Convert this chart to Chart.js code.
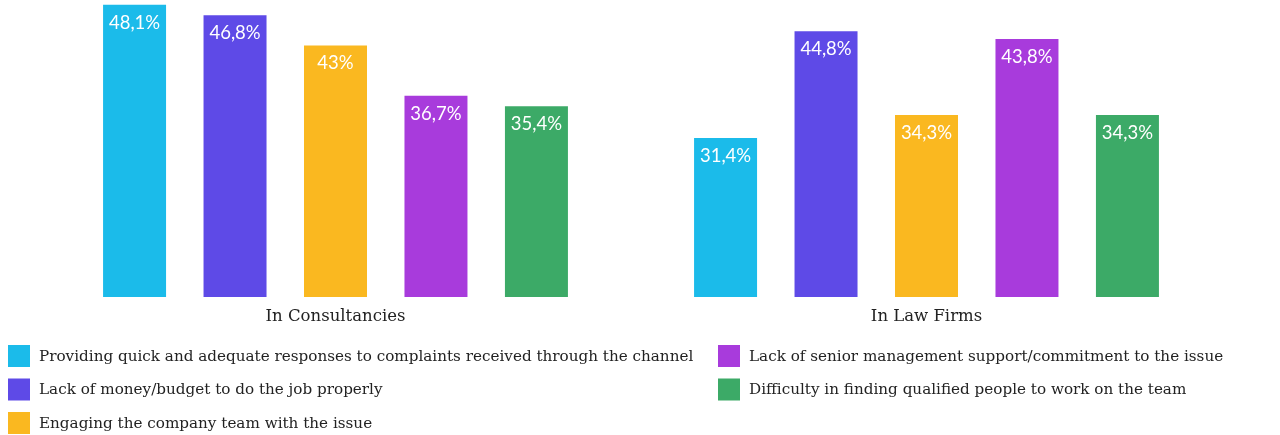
<!DOCTYPE html>
<html>
<head>
<meta charset="utf-8">
<script src="https://cdn.jsdelivr.net/npm/chart.js@4.4.1/dist/chart.umd.min.js"></script>
<style>
  html, body { margin: 0; padding: 0; background: #fff; }
  #wrap { width: 1280px; height: 435px; position: relative; }
</style>
</head>
<body>
<div id="wrap"><canvas id="chart"></canvas></div>
<script>
const categories = ["In Consultancies", "In Law Firms"];
const seriesNames = [
  "Providing quick and adequate responses to complaints received through the channel",
  "Lack of money/budget to do the job properly",
  "Engaging the company team with the issue",
  "Lack of senior management support/commitment to the issue",
  "Difficulty in finding qualified people to work on the team"
];
const quickResponses = [48.1, 31.4];
const lackOfBudget = [46.8, 44.8];
const engagingTeam = [43, 34.3];
const lackOfSupport = [36.7, 43.8];
const qualifiedPeople = [35.4, 34.3];
const seriesValues = [quickResponses, lackOfBudget, engagingTeam, lackOfSupport, qualifiedPeople];
const colors = ["#1bbbea", "#5e4ae7", "#fab820", "#a83bdc", "#3caa67"];

const serif = "'DejaVu Serif', serif";

// white % labels inside the top of each bar
const barLabels = {
  id: "barLabels",
  afterDatasetsDraw(chart) {
    const ctx = chart.ctx;
    ctx.save();
    ctx.fillStyle = "#fff";
    ctx.font = "400 18.5px Lato, sans-serif";
    ctx.textAlign = "center";
    ctx.textBaseline = "middle";
    chart.data.datasets.forEach((ds, i) => {
      chart.getDatasetMeta(i).data.forEach((bar, j) => {
        const txt = String(ds.data[j]).replace(".", ",") + "%";
        ctx.fillText(txt, bar.x, bar.y + 18);
      });
    });
    ctx.restore();
  }
};

// legend in two columns under the axis
const columnLegend = {
  id: "columnLegend",
  afterDraw(chart) {
    const ctx = chart.ctx;
    const colX = [8, 718];
    ctx.save();
    ctx.font = "15.2px " + serif;
    ctx.textBaseline = "middle";
    ctx.textAlign = "left";
    chart.data.datasets.forEach((ds, i) => {
      const col = i < 3 ? 0 : 1;
      const row = i < 3 ? i : i - 3;
      const x = colX[col];
      const y = 345 + row * 33.5;
      ctx.fillStyle = ds.backgroundColor;
      ctx.fillRect(x, y, 22, 22);
      ctx.fillStyle = "#222";
      ctx.fillText(ds.label, x + 31, y + 12);
    });
    ctx.restore();
  }
};

new Chart(document.getElementById("chart"), {
  type: "bar",
  data: {
    labels: categories,
    datasets: seriesNames.map((name, i) => ({
      label: name,
      data: seriesValues[i],
      backgroundColor: colors[i],
      categoryPercentage: 0.85,
      barPercentage: 0.627
    }))
  },
  options: {
    responsive: true,
    maintainAspectRatio: false,
    animation: false,
    layout: { padding: { left: 40, right: 58, top: 0, bottom: 98 } },
    plugins: {
      legend: { display: false },
      tooltip: { enabled: false }
    },
    scales: {
      x: {
        grid: { display: false },
        border: { display: false },
        ticks: { color: "#222", font: { family: serif, size: 16.5 }, padding: 2 },
        afterFit(scale) { scale.height = 40; }
      },
      y: { display: false, min: 11.5, max: 48.7 }
    }
  },
  plugins: [barLabels, columnLegend]
});
</script>
</body>
</html>
